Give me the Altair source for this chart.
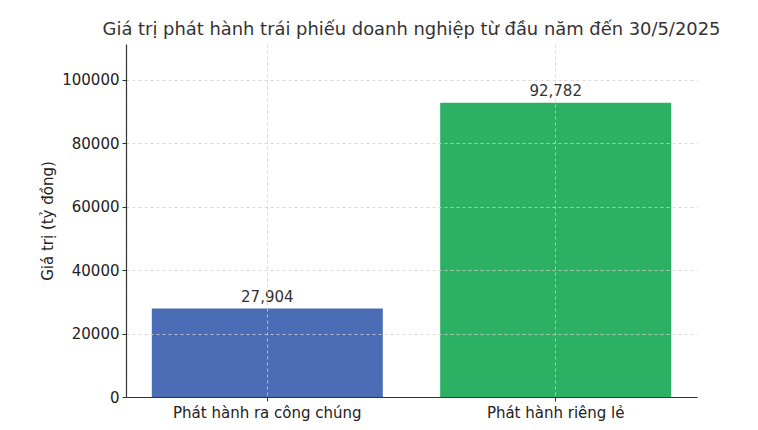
import altair as alt
import pandas as pd

# Dữ liệu phát hành trái phiếu (tỷ đồng)
categories = ["Phát hành ra công chúng", "Phát hành riêng lẻ"]
values = [27904, 92782]
colors = ["#4a6db5", "#2cb064"]

df = pd.DataFrame({"loai": categories, "gia_tri": values, "mau": colors})

font = "DejaVu Sans"
y_max = max(values) * 1.2

x_enc = alt.X(
    "loai:N",
    sort=categories,
    title=None,
    scale=alt.Scale(paddingInner=0.2, paddingOuter=0.09),
    axis=alt.Axis(
        labelAngle=0, grid=True, gridDash=[3, 3], gridColor="#d0d0d0", gridWidth=0.8,
        domainColor="#333333", domainWidth=1.2, tickColor="#333333", tickSize=4,
        labelFont=font, labelFontSize=15, labelColor="#222222", labelPadding=4,
        labelLimit=400, zindex=1,
    ),
)
y_enc = alt.Y(
    "gia_tri:Q",
    title="Giá trị (tỷ đồng)",
    scale=alt.Scale(domain=[0, y_max], nice=False),
    axis=alt.Axis(
        values=[0, 20000, 40000, 60000, 80000, 100000], format="d",
        grid=True, gridDash=[3, 3], gridColor="#d0d0d0", gridWidth=0.8,
        domainColor="#333333", domainWidth=1.2, tickColor="#333333", tickSize=4,
        labelFont=font, labelFontSize=15, labelColor="#222222", labelPadding=3,
        titleFont=font, titleFontSize=15, titleFontWeight="normal",
        titleColor="#222222", titlePadding=6,
        zindex=1,
    ),
)

bars = alt.Chart(df).mark_bar(size=231).encode(
    x=x_enc,
    y=y_enc,
    color=alt.Color("mau:N", scale=None),
)

labels = alt.Chart(df).mark_text(
    baseline="bottom", dy=-4, font=font, fontSize=15, color="#333333"
).encode(
    x=alt.X("loai:N", sort=categories),
    y=alt.Y("gia_tri:Q"),
    text=alt.Text("gia_tri:Q", format=","),
)

chart = (bars + labels).properties(
    width=571,
    height=353,
    autosize=alt.AutoSizeParams(type="none"),
    padding={"left": 118, "top": 36, "right": 40, "bottom": 30},
    title=alt.TitleParams(
        "Giá trị phát hành trái phiếu doanh nghiệp từ đầu năm đến 30/5/2025",
        font=font, fontSize=17.9, fontWeight="normal", color="#333333",
        anchor="middle", offset=5,
    ),
).configure_view(stroke=None)

chart.save("out.html", embed_options={"renderer": "svg", "actions": False})
